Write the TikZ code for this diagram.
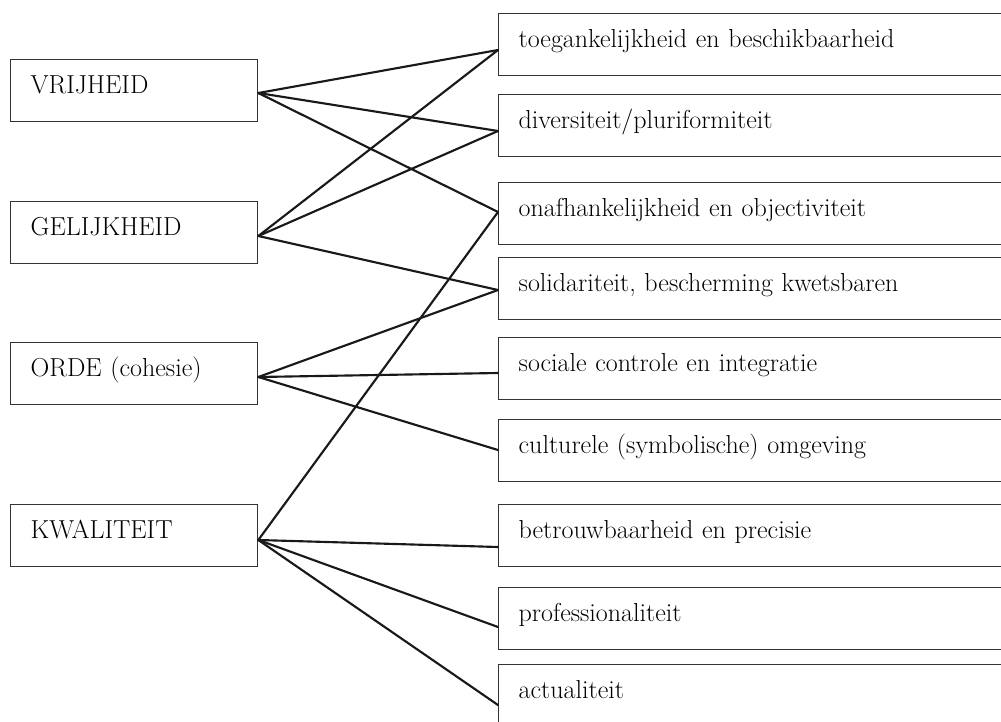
\documentclass[tikz,border=0pt]{standalone}
\usetikzlibrary{calc}
\begin{document}
\begin{tikzpicture}[x=0.75pt,y=-0.75pt,
  box/.style={draw=black!80, line width=1pt, anchor=north west,
    inner xsep=15pt, inner ysep=0pt, text height=25.5pt, text depth=21pt,
    align=left, font=\fontsize{19.5}{22}\selectfont},
  lbox/.style={box, text width=155.25pt},
  rbox/.style={box, text width=354pt},
  link/.style={line width=1.6pt, draw=black!90, line cap=round}]
\useasboundingbox (0,0) rectangle (1001,722);
\clip (0,0) rectangle (1001,722);

% values
\node[lbox] (vr) at (10,59)  {VRIJHEID};
\node[lbox] (ge) at (10,201) {GELIJKHEID};
\node[lbox] (or) at (10,342) {ORDE (cohesie)};
\node[lbox] (kw) at (10,504) {KWALITEIT};

% criteria
\node[rbox] (r1) at (498,13)  {toegankelijkheid en beschikbaarheid};
\node[rbox] (r2) at (498,94)  {diversiteit/pluriformiteit};
\node[rbox] (r3) at (498,182) {onafhankelijkheid en objectiviteit};
\node[rbox] (r4) at (498,257) {solidariteit, bescherming kwetsbaren};
\node[rbox] (r5) at (498,337) {sociale controle en integratie};
\node[rbox] (r6) at (498,419) {culturele (symbolische) omgeving};
\node[rbox] (r7) at (498,504) {betrouwbaarheid en precisie};
\node[rbox] (r8) at (498,587) {professionaliteit};
\node[rbox] (r9) at (498,664) {actualiteit};

% connection points
\coordinate (vr-o) at ($(vr.north east)+(0,34)$);
\coordinate (ge-o) at ($(ge.north east)+(0,35)$);
\coordinate (or-o) at ($(or.north east)+(0,35)$);
\coordinate (kw-o) at ($(kw.north east)+(0,36)$);
\coordinate (r1-i) at ($(r1.north west)+(0,37)$);
\coordinate (r2-i) at ($(r2.north west)+(0,37)$);
\coordinate (r3-i) at ($(r3.north west)+(0,30)$);
\coordinate (r4-i) at ($(r4.north west)+(0,33)$);
\coordinate (r5-i) at ($(r5.north west)+(0,36)$);
\coordinate (r6-i) at ($(r6.north west)+(0,31)$);
\coordinate (r7-i) at ($(r7.north west)+(0,43)$);
\coordinate (r8-i) at ($(r8.north west)+(0,40)$);
\coordinate (r9-i) at ($(r9.north west)+(0,41)$);

\draw[link] (vr-o) -- (r1-i);
\draw[link] (vr-o) -- (r2-i);
\draw[link] (vr-o) -- (r3-i);
\draw[link] (ge-o) -- (r1-i);
\draw[link] (ge-o) -- (r2-i);
\draw[link] (ge-o) -- (r4-i);
\draw[link] (or-o) -- (r4-i);
\draw[link] (or-o) -- (r5-i);
\draw[link] (or-o) -- (r6-i);
\draw[link] (kw-o) -- (r3-i);
\draw[link] (kw-o) -- (r7-i);
\draw[link] (kw-o) -- (r8-i);
\draw[link] (kw-o) -- (r9-i);
\end{tikzpicture}
\end{document}
